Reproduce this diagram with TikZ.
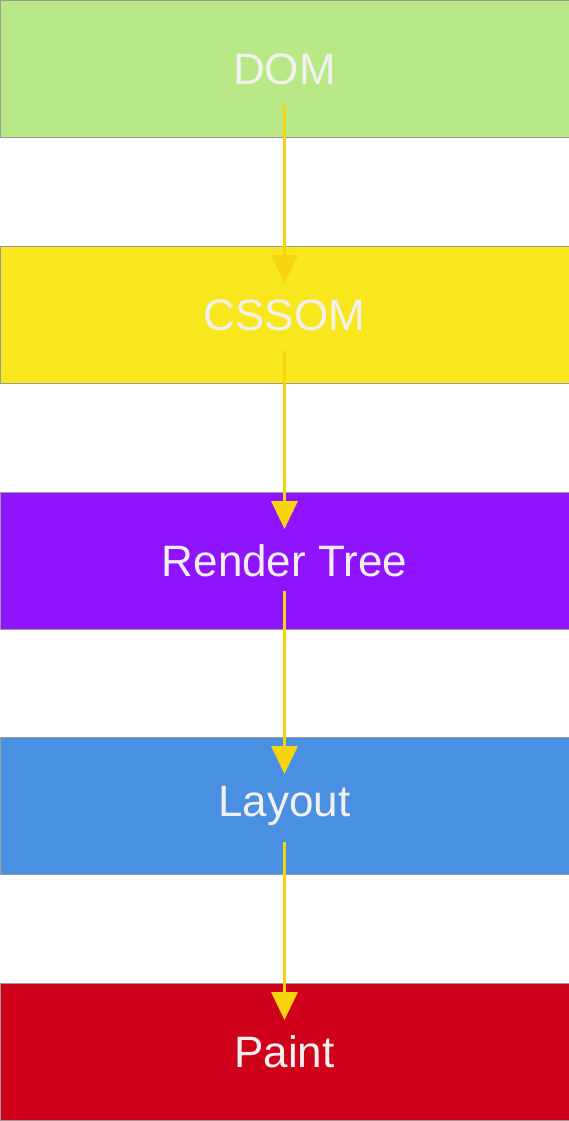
\documentclass[tikz,border=0pt]{standalone}
\usepackage{fontspec}
\setmainfont{Liberation Sans}
\usetikzlibrary{arrows.meta}
\definecolor{cdom}{HTML}{B8E986}
\definecolor{ccss}{HTML}{F8E71C}
\definecolor{crender}{HTML}{9013FE}
\definecolor{clayout}{HTML}{4A90E2}
\definecolor{cpaint}{HTML}{D0021B}
\definecolor{cborder}{HTML}{9B9B9B}
\definecolor{ctext}{HTML}{F4F0F0}
\definecolor{carrow}{HTML}{F6D50E}
\tikzset{
  stage/.style={draw=cborder, line width=1pt, minimum width=569pt, minimum height=137pt,
    inner sep=0pt, text=ctext, font=\fontsize{44}{50}\selectfont, anchor=north},
  flow/.style={draw=carrow, line width=3.5pt, -{Triangle[width=26pt,length=28pt,fill=carrow]}}
}
\begin{document}
\begin{tikzpicture}[x=1pt,y=1pt]
\useasboundingbox (0,0) rectangle (569,-1121);
\node[stage, fill=cdom]    (dom)    at (284.5,0)    {DOM};
\node[stage, fill=ccss]    (cssom)  at (284.5,-246) {CSSOM};
\node[stage, fill=crender] (render) at (284.5,-492) {Render Tree};
\node[stage, fill=clayout] (layout) at (284.5,-737) {Layout};
\node[stage, fill=cpaint]  (paint)  at (284.5,-983) {Paint};
\draw[flow] ([yshift=33pt]dom.south)    -- ([yshift=-37pt]cssom.north);
\draw[flow] ([yshift=33pt]cssom.south)  -- ([yshift=-37pt]render.north);
\draw[flow] ([yshift=39pt]render.south) -- ([yshift=-37pt]layout.north);
\draw[flow] ([yshift=33pt]layout.south) -- ([yshift=-37pt]paint.north);
\end{tikzpicture}
\end{document}
